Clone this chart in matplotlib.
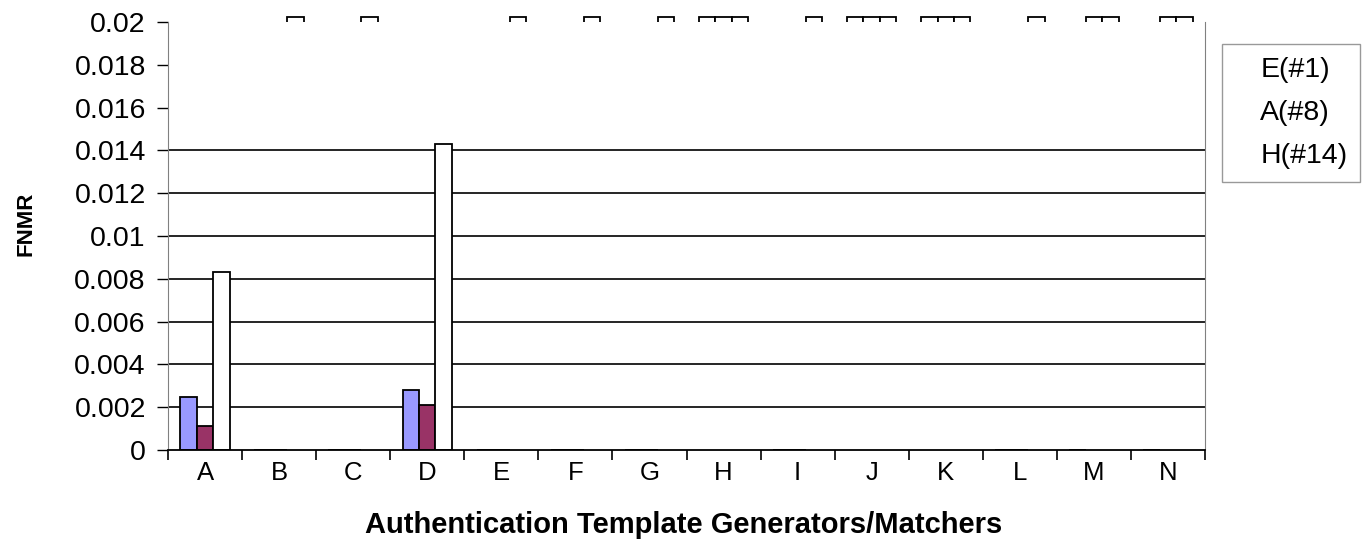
import numpy as np
import matplotlib
matplotlib.use("Agg")
import matplotlib.pyplot as plt
from matplotlib.patches import Patch, Rectangle

plt.rcParams['font.family'] = ['Liberation Sans', 'DejaVu Sans']

OFF = float('inf')  # value off the top of the scale

categories = ['A', 'B', 'C', 'D', 'E', 'F', 'G', 'H', 'I', 'J', 'K', 'L', 'M', 'N']
series_names = ['E(#1)', 'A(#8)', 'H(#14)']
e1 = [0.0025, 0, 0, 0.0028, 0, 0, 0, OFF, 0, OFF, OFF, 0, 0, 0]
a8 = [0.0011, 0, 0, 0.0021, 0, 0, 0, OFF, 0, OFF, OFF, 0, OFF, OFF]
h14 = [0.0083, OFF, OFF, 0.0143, OFF, OFF, OFF, OFF, OFF, OFF, OFF, OFF, OFF, OFF]
series = [e1, a8, h14]
colors = ['#9999FF', '#993366', '#FFFFFF']
yticks = [0, 0.002, 0.004, 0.006, 0.008, 0.01, 0.012, 0.014, 0.016, 0.018, 0.02]
ytick_labels = ['0', '0.002', '0.004', '0.006', '0.008', '0.01', '0.012', '0.014',
                '0.016', '0.018', '0.02']
grid_levels = [0.002, 0.004, 0.006, 0.008, 0.01, 0.012, 0.014]
ymax = 0.02

fig = plt.figure(figsize=(13.68, 5.56), dpi=100)
ax = fig.add_axes([168/1368, 1-450/556, (1205-168)/1368, (450-22)/556])

x = np.arange(len(categories))
bw = 1/4.5
stub = 0.00024
clip_rect = Rectangle((0, 1.0), 1, 0.2, transform=ax.transAxes)
for k, (vals, c) in enumerate(zip(series, colors)):
    off = (k-1)*bw
    for i, v in enumerate(vals):
        if np.isinf(v):
            b = ax.bar(x[i]+off, ymax+stub, width=bw, color='white', edgecolor='black',
                       linewidth=1.3, zorder=3, clip_on=False)
            b.patches[0].set_clip_path(clip_rect)
            b.patches[0].set_clip_on(True)
        else:
            ax.bar(x[i]+off, v, width=bw, color=c, edgecolor='black',
                   linewidth=1.3, zorder=3)

for g in grid_levels:
    ax.axhline(g, color='black', linewidth=1.2, zorder=1)

ax.set_xlim(-0.5, len(categories)-0.5)
ax.set_ylim(0, ymax)
ax.set_yticks(yticks)
ax.set_yticklabels(ytick_labels, fontsize=20.5)
ax.tick_params(axis='y', length=8, width=1, color='black', pad=8, direction='out')

ax.set_xticks(np.arange(len(categories)+1)-0.5)
ax.set_xticklabels([])
ax.tick_params(axis='x', which='major', length=7, width=1.2, color='black')
ax.set_xticks(x, minor=True)
ax.set_xticklabels(categories, minor=True, fontsize=18.5)
ax.tick_params(axis='x', which='minor', length=0, pad=8)

ax.spines['top'].set_visible(False)
ax.spines['left'].set_color('#808080')
ax.spines['right'].set_color('#808080')
ax.spines['bottom'].set_color('black')
ax.spines['bottom'].set_linewidth(1.3)
ax.spines['bottom'].set_zorder(4)

fig.text(26/1368, 1-224/556, 'FNMR', rotation=90, fontsize=16, fontweight='bold',
         ha='center', va='center')
fig.text(684/1368, 1-525/556, 'Authentication Template Generators/Matchers', fontsize=21,
         fontweight='bold', ha='center', va='center')

handles = [Patch(facecolor='none', edgecolor='none') for _ in series_names]
leg = fig.legend(handles, series_names, loc='upper left',
                 bbox_to_anchor=(1222/1368, 1-44/556), fontsize=20.5, frameon=True,
                 fancybox=False, edgecolor='#808080', handlelength=0.5,
                 handletextpad=0.4, labelspacing=0.6, borderpad=0.45,
                 borderaxespad=0)
leg.get_frame().set_linewidth(1.0)

fig.savefig('out.png', dpi=100)
